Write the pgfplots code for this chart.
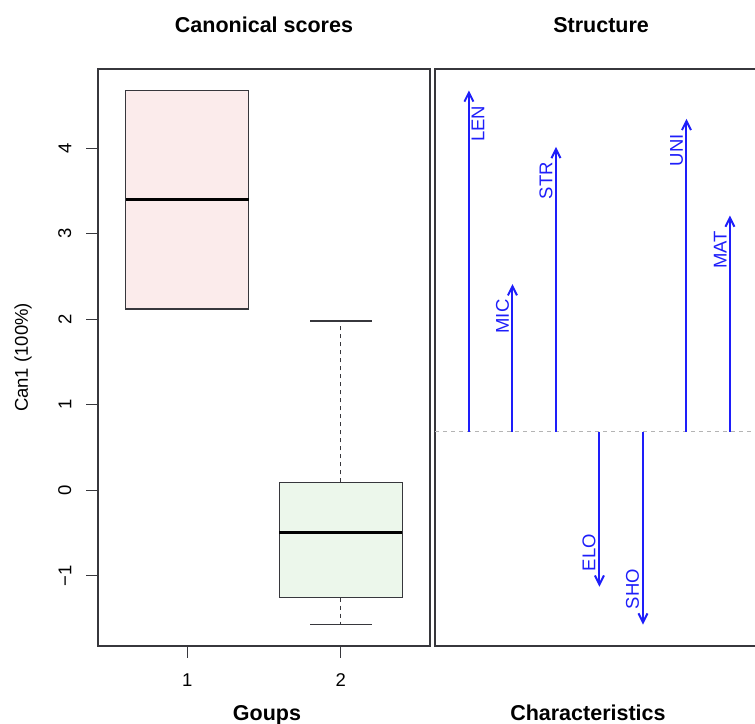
\documentclass[border=0pt]{standalone}
\usepackage{pgfplots}
\pgfplotsset{compat=1.18}
\usepackage{pgfplotstable}
\usepgfplotslibrary{statistics}
\usetikzlibrary{arrows.meta}
\usepackage{fontspec}
\setmainfont{Liberation Sans}

\definecolor{fillA}{RGB}{251,235,235}
\definecolor{fillB}{RGB}{236,247,235}
\definecolor{frame}{RGB}{55,55,60}
\definecolor{arrowblue}{RGB}{30,30,250}
\definecolor{zeroline}{RGB}{180,180,180}

\newcommand{\ticksz}{\fontsize{9.25}{11}\selectfont}
\newcommand{\labsz}{\bfseries\fontsize{10.75}{13}\selectfont}

% structure coefficients (arrow from 0 to s)
\pgfplotstableread{
x base s
1 0 0.900
2 0 0.389
3 0 0.751
4 0 -0.409
5 0 -0.509
6 0 0.825
7 0 0.570
}\structtab

\pgfplotstableread{
x s label
2 0.389 MIC
3 0.751 STR
6 0.825 UNI
7 0.570 MAT
}\upleft
\pgfplotstableread{
x s label
1 0.900 LEN
}\upright
\pgfplotstableread{
x s label
4 -0.409 ELO
5 -0.509 SHO
}\downleft

\begin{document}
\begin{tikzpicture}
\pgfplotsset{
  common/.style={
    scale only axis, height=288.5pt,
    axis line style={frame, line width=0.6pt},
    tick style={frame, line width=0.6pt},
    ticklabel style={font=\ticksz},
    every axis title shift=0pt,
    title style={at={(axis description cs:0.5,1.0763)}, anchor=center, font=\labsz},
    xlabel style={font=\labsz, anchor=base},
  }
}
\begin{axis}[common,
  at={(49pt,38.5pt)}, anchor=south west, width=166pt,
  xmin=0.42, xmax=2.58, ymin=-1.825, ymax=4.93,
  xtick={1,2}, ytick={-1,0,1,2,3,4},
  xticklabels={1,2},
  yticklabels={−1,0,1,2,3,4},
  tick align=outside, tick pos=left, major tick length=5.8pt,
  xticklabel style={anchor=north, inner sep=0pt},
  yticklabel style={rotate=90, anchor=south, inner sep=0pt},
  xticklabel shift=7.85pt, yticklabel shift=7.35pt,
  title={Canonical scores},
  xlabel={Goups}, xlabel style={at={(axis description cs:0.509,-0.129)}},
  ylabel={Can1 (100\%)},
  ylabel style={at={(axis description cs:-0.226,0.5)}, anchor=center, font=\ticksz},
  boxplot/draw direction=y,
  boxplot/box extend=0.8,
  boxplot/whisker extend=0.4,
  boxplot/every median/.style={draw=black, line width=1.65pt},
  boxplot/draw/lower whisker/.code={
    \draw[dash pattern=on 2pt off 2pt] (boxplot cs:\pgfplotsboxplotvalue{lower quartile}) -- (boxplot cs:\pgfplotsboxplotvalue{lower whisker});
    \draw (boxplot whisker cs:\pgfplotsboxplotvalue{lower whisker},0) -- (boxplot whisker cs:\pgfplotsboxplotvalue{lower whisker},1);
  },
  boxplot/draw/upper whisker/.code={
    \draw[dash pattern=on 2pt off 2pt] (boxplot cs:\pgfplotsboxplotvalue{upper quartile}) -- (boxplot cs:\pgfplotsboxplotvalue{upper whisker});
    \draw (boxplot whisker cs:\pgfplotsboxplotvalue{upper whisker},0) -- (boxplot whisker cs:\pgfplotsboxplotvalue{upper whisker},1);
  },
]
\addplot[draw=frame, line width=0.6pt, solid,
  boxplot prepared={draw position=1,
    lower whisker=2.12, lower quartile=2.12, median=3.40,
    upper quartile=4.68, upper whisker=4.68,
    every box/.style={fill=fillA, draw=frame, line width=0.6pt}}]
  coordinates {};
\addplot[draw=frame, line width=0.6pt, solid,
  boxplot prepared={draw position=2,
    lower whisker=-1.575, lower quartile=-1.26, median=-0.50,
    upper quartile=0.09, upper whisker=1.98,
    every box/.style={fill=fillB, draw=frame, line width=0.6pt}}]
  coordinates {};
\end{axis}

\begin{axis}[common,
  at={(217.5pt,38.5pt)}, anchor=south west, width=164.45pt,
  xmin=0.22, xmax=7.78, ymin=-0.5654, ymax=0.9564,
  xtick=\empty, ytick=\empty,
  title={Structure}, title style={at={(axis description cs:0.505,1.0763)}},
  xlabel={Characteristics}, xlabel style={at={(axis description cs:0.465,-0.129)}},
]
\addplot[zeroline, line width=0.6pt, dash pattern=on 2pt off 2pt] coordinates {(0.22,0) (7.78,0)};
\addplot[arrowblue, line width=1pt, -{Straight Barb[length=4.5pt, width=4.5pt]},
  quiver={u=0, v=\thisrow{s}}] table[x=x, y=base] {\structtab};
\addplot[draw=none, mark=none, nodes near coords, point meta=explicit symbolic,
  every node near coord/.style={xshift=-1.5pt, yshift=-7.5pt, rotate=90, anchor=south east, inner sep=0pt, font=\ticksz, text=arrowblue}]
  table[x=x, y=s, meta=label] {\upleft};
\addplot[draw=none, mark=none, nodes near coords, point meta=explicit symbolic,
  every node near coord/.style={xshift=1.2pt, yshift=-7.5pt, rotate=90, anchor=north east, inner sep=0pt, font=\ticksz, text=arrowblue}]
  table[x=x, y=s, meta=label] {\upright};
\addplot[draw=none, mark=none, nodes near coords, point meta=explicit symbolic,
  every node near coord/.style={xshift=-1.75pt, yshift=7.5pt, rotate=90, anchor=south west, inner sep=0pt, font=\ticksz, text=arrowblue}]
  table[x=x, y=s, meta=label] {\downleft};
\end{axis}
\pgfresetboundingbox
\path[use as bounding box] (0,0) rectangle (377.5pt,361.5pt);
\end{tikzpicture}
\end{document}
